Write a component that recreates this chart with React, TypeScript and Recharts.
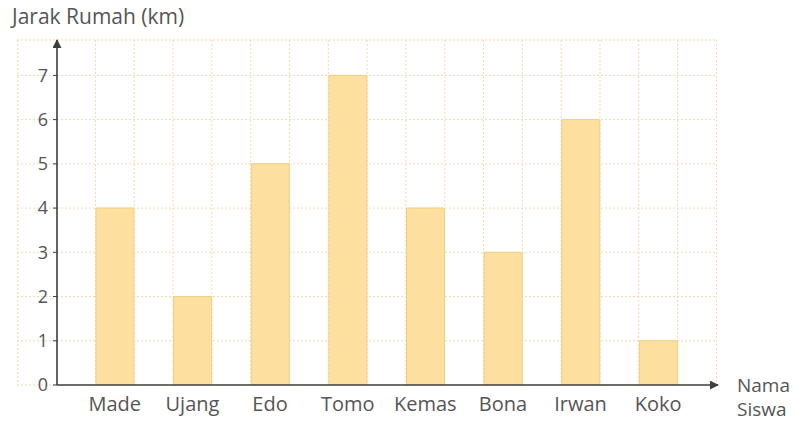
import { BarChart, Bar, XAxis, YAxis, CartesianGrid } from "recharts"

if (typeof document !== "undefined") document.body.style.margin = "0"

const students = ["Made", "Ujang", "Edo", "Tomo", "Kemas", "Bona", "Irwan", "Koko"]
const distances = [4, 2, 5, 7, 4, 3, 6, 1]
const yTicks = [0, 1, 2, 3, 4, 5, 6, 7]
const yMax = 7.8

const data = students.map((name, i) => ({ name, km: distances[i] }))

const FONT = "'Open Sans', 'Noto Sans', sans-serif"
const TEXT = "#555"
const AXIS = "#3f3f3f"
const GRID = "#f5d7b0"
const PAD_L = 19
const PAD_R = 21

// grid lines: every half category band, one column past the y axis
const verticalLines = ({ xAxis, offset }: any) => {
  const scale = xAxis?.scale
  let start: number
  let bw: number
  if (typeof scale === "function" && typeof scale.bandwidth === "function") {
    bw = scale.bandwidth()
    start = scale(students[0])
  } else {
    bw = (offset.width - PAD_L - PAD_R) / students.length
    start = offset.left + PAD_L
  }
  const pts: number[] = []
  for (let k = -3; k <= students.length * 4 + 1; k += 2) {
    pts.push(start + (k * bw) / 4)
  }
  return pts
}

const horizontalLines = ({ yAxis, offset }: any) => {
  const scale = yAxis?.scale
  const pts =
    typeof scale === "function"
      ? yTicks.map((t) => scale(t))
      : yTicks.map((t) => offset.top + offset.height * (1 - t / yMax))
  pts.push(offset.top)
  return pts
}

export default function App() {
  return (
    <div style={{ width: 795, height: 421, background: "#fff", fontFamily: FONT }}>
      <BarChart
        width={795}
        height={421}
        data={data}
        margin={{ top: 40, right: 77, left: 17, bottom: 6 }}
        barSize={38}
      >
        <defs>
          <marker id="arrowHead" viewBox="0 0 10 10" refX="9" refY="5" markerWidth="9" markerHeight="9" orient="auto-start-reverse" markerUnits="userSpaceOnUse">
            <path d="M0,0 L10,5 L0,10 z" fill={AXIS} />
          </marker>
        </defs>
        <CartesianGrid
          x={17}
          y={40}
          width={700}
          height={345}
          stroke={GRID}
          strokeDasharray="2 2"
          verticalCoordinatesGenerator={verticalLines}
          horizontalCoordinatesGenerator={horizontalLines}
        />
        <Bar dataKey="km" fill="#fde09f" stroke="#f3cd84" strokeWidth={1} isAnimationActive={false} />
        <XAxis
          dataKey="name"
          height={30}
          padding={{ left: PAD_L, right: PAD_R }}
          tickLine={false}
          tickSize={0}
          tickMargin={12}
          axisLine={{ stroke: AXIS, strokeWidth: 1.6, markerEnd: "url(#arrowHead)" }}
          tick={{ fill: TEXT, fontSize: 20, fontFamily: FONT }}
        />
        <YAxis
          width={40}
          domain={[0, yMax]}
          ticks={yTicks}
          allowDataOverflow
          tickSize={4}
          tickMargin={5}
          tickLine={{ stroke: AXIS }}
          axisLine={{ stroke: AXIS, strokeWidth: 1.6, markerStart: "url(#arrowHead)" }}
          tick={{ fill: TEXT, fontSize: 18, fontFamily: FONT }}
        />
        <text x={12} y={24} fill={TEXT} fontSize={21} fontFamily={FONT}>
          Jarak Rumah (km)
        </text>
        <text x={737} y={392} fill={TEXT} fontSize={19} fontFamily={FONT}>
          Nama
        </text>
        <text x={737} y={416} fill={TEXT} fontSize={19} fontFamily={FONT}>
          Siswa
        </text>
      </BarChart>
    </div>
  )
}
